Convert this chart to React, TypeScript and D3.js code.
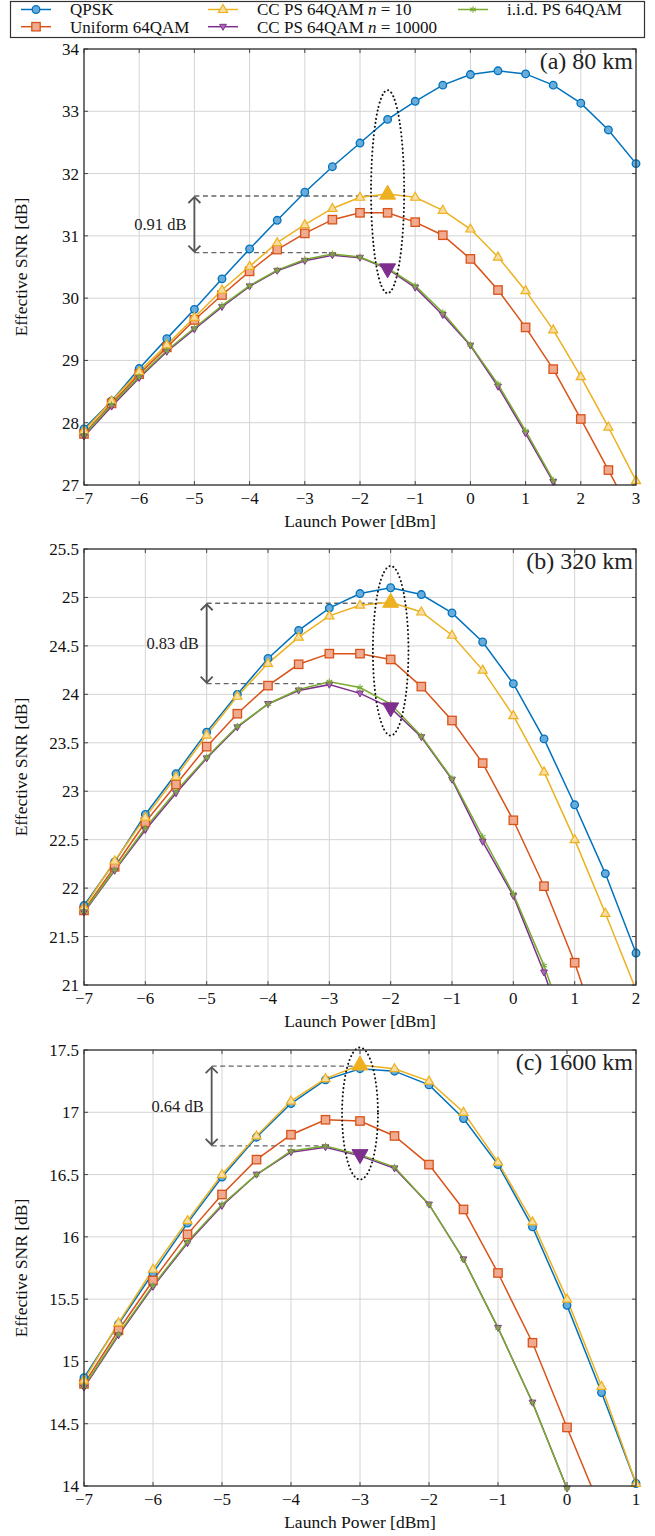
import React from 'react';
import * as d3 from 'd3';

// ---- data -------------------------------------------------------------
const powerA = [-7, -6.5, -6, -5.5, -5, -4.5, -4, -3.5, -3, -2.5, -2, -1.5, -1, -0.5, 0, 0.5, 1, 1.5, 2, 2.5, 3];
const qpskA = [27.9, 28.35, 28.87, 29.35, 29.82, 30.31, 30.79, 31.25, 31.7, 32.11, 32.49, 32.87, 33.16, 33.42, 33.59, 33.65, 33.6, 33.42, 33.13, 32.7, 32.16];
const uniformA = [27.82, 28.31, 28.78, 29.21, 29.65, 30.05, 30.43, 30.78, 31.04, 31.26, 31.37, 31.37, 31.22, 31.01, 30.63, 30.13, 29.53, 28.86, 28.06, 27.24, 26.4];
const cc10A = [27.87, 28.35, 28.82, 29.25, 29.69, 30.13, 30.51, 30.89, 31.18, 31.44, 31.62, 31.67, 31.62, 31.41, 31.11, 30.66, 30.12, 29.49, 28.74, 27.93, 27.07];
const cc10kA = [27.78, 28.26, 28.72, 29.14, 29.5, 29.86, 30.19, 30.44, 30.6, 30.69, 30.65, 30.47, 30.17, 29.73, 29.24, 28.58, 27.83, 27.05, 26.2, 25.2, 24.2];
const iidA = [27.8, 28.29, 28.74, 29.16, 29.52, 29.88, 30.2, 30.45, 30.62, 30.71, 30.66, 30.48, 30.2, 29.77, 29.25, 28.62, 27.87, 27.08, 26.2, 25.2, 24.2];

const powerB = [-7, -6.5, -6, -5.5, -5, -4.5, -4, -3.5, -3, -2.5, -2, -1.5, -1, -0.5, 0, 0.5, 1, 1.5, 2];
const qpskB = [21.82, 22.27, 22.76, 23.18, 23.61, 24.0, 24.37, 24.66, 24.89, 25.04, 25.1, 25.03, 24.84, 24.54, 24.11, 23.54, 22.86, 22.15, 21.33];
const uniformB = [21.77, 22.22, 22.68, 23.07, 23.46, 23.8, 24.09, 24.31, 24.42, 24.42, 24.36, 24.08, 23.73, 23.29, 22.7, 22.02, 21.23, 20.3, 19.3];
const cc10B = [21.8, 22.28, 22.73, 23.15, 23.58, 23.98, 24.32, 24.59, 24.81, 24.92, 24.95, 24.85, 24.61, 24.25, 23.78, 23.2, 22.5, 21.74, 20.95];
const cc10kB = [21.75, 22.18, 22.6, 22.98, 23.34, 23.66, 23.9, 24.04, 24.1, 24.01, 23.86, 23.56, 23.12, 22.48, 21.92, 21.13, 20.2, 19.2, 18.1];
const iidB = [21.76, 22.19, 22.62, 23.0, 23.35, 23.67, 23.9, 24.05, 24.13, 24.07, 23.9, 23.57, 23.13, 22.53, 21.94, 21.2, 20.3, 19.3, 18.2];

const powerC = [-7, -6.5, -6, -5.5, -5, -4.5, -4, -3.5, -3, -2.5, -2, -1.5, -1, -0.5, 0, 0.5, 1];
const qpskC = [14.87, 15.3, 15.71, 16.11, 16.48, 16.8, 17.07, 17.26, 17.35, 17.33, 17.22, 16.95, 16.58, 16.08, 15.45, 14.75, 14.02];
const uniformC = [14.82, 15.25, 15.65, 16.02, 16.34, 16.62, 16.82, 16.94, 16.93, 16.81, 16.58, 16.22, 15.71, 15.15, 14.47, 13.8, 13.0];
const cc10C = [14.85, 15.31, 15.74, 16.13, 16.5, 16.81, 17.09, 17.27, 17.38, 17.35, 17.25, 17.0, 16.6, 16.12, 15.5, 14.8, 14.02];
const cc10kC = [14.79, 15.21, 15.6, 15.95, 16.25, 16.5, 16.68, 16.72, 16.65, 16.55, 16.26, 15.82, 15.27, 14.67, 13.98, 13.2, 12.3];
const iidC = [14.8, 15.22, 15.61, 15.96, 16.26, 16.5, 16.69, 16.73, 16.66, 16.56, 16.26, 15.82, 15.27, 14.67, 13.98, 13.2, 12.3];

const xTicksA = [-7, -6, -5, -4, -3, -2, -1, 0, 1, 2, 3];
const yTicksA = [27, 28, 29, 30, 31, 32, 33, 34];
const xTicksB = [-7, -6, -5, -4, -3, -2, -1, 0, 1, 2];
const yTicksB = [21, 21.5, 22, 22.5, 23, 23.5, 24, 24.5, 25, 25.5];
const xTicksC = [-7, -6, -5, -4, -3, -2, -1, 0, 1];
const yTicksC = [14, 14.5, 15, 15.5, 16, 16.5, 17, 17.5];

const panelTitles = ['(a) 80 km', '(b) 320 km', '(c) 1600 km'];
// annotation: gap between best CC PS n=10 and n=10000 points
const gapLabels = ['0.91 dB', '0.83 dB', '0.64 dB'];
const gapTop = [31.64, 24.94, 17.37];
const gapBottom = [30.73, 24.11, 16.73];
const gapArrowX = [-5, -5, -5.15];
const gapTopEnd = [-1.5, -2, -3];
const gapBottomEnd = [-2.5, -3, -3.5];
const peakX = [-1.5, -2, -3];
const peakCC10 = [31.67, 24.95, 17.38];
const peakCC10k = [30.47, 23.86, 16.66];
const ellipseCY = [31.71, 24.45, 16.99];
const ellipseRY = [1.63, 0.875, 0.53];
const ellipseRX = [0.3, 0.29, 0.26];

// ---- style ------------------------------------------------------------
const FONT = '"Liberation Serif", "Times New Roman", serif';
const BLUE = '#0072BD';
const ORANGE = '#D95319';
const YELLOW = '#EDB120';
const PURPLE = '#7E2F8E';
const GREEN = '#77AC30';

const LEFT = 84;
const RIGHT = 636;
const PANEL_H = 436;

type Kind = 'circle' | 'square' | 'up' | 'down' | 'star';

const Marker = ({ kind, x, y, color }: { kind: Kind; x: number; y: number; color: string }) => {
  const t = `translate(${x},${y})`;
  if (kind === 'circle')
    return <circle cx={x} cy={y} r={3.8} fill="#67acdb" stroke={color} strokeWidth={1.3} />;
  if (kind === 'square')
    return <rect x={x - 4.2} y={y - 4.2} width={8.4} height={8.4} fill="#efaa90" stroke={color} strokeWidth={1.3} />;
  if (kind === 'up')
    return <path transform={t} d="M0,-5 L4.6,3 L-4.6,3Z" fill="#f7dea0" stroke={color} strokeWidth={1.2} />;
  if (kind === 'down')
    return <path transform={t} d="M0,3.6 L-3.4,-2.4 L3.4,-2.4Z" fill="#a86bb3" stroke={color} strokeWidth={1} />;
  return (
    <g transform={t} stroke={color} strokeWidth={1.1}>
      <line x1={0} y1={-3.3} x2={0} y2={3.3} />
      <line x1={-2.9} y1={-1.65} x2={2.9} y2={1.65} />
      <line x1={-2.9} y1={1.65} x2={2.9} y2={-1.65} />
    </g>
  );
};

type Series = { values: number[]; color: string; kind: Kind };

const Panel = ({ idx, top, xs, series, xDomain, yDomain, xTicks, yTicks }: {
  idx: number; top: number; xs: number[]; series: Series[];
  xDomain: [number, number]; yDomain: [number, number]; xTicks: number[]; yTicks: number[];
}) => {
  const bottom = top + PANEL_H;
  const x = d3.scaleLinear().domain(xDomain).range([LEFT, RIGHT]);
  const y = d3.scaleLinear().domain(yDomain).range([bottom, top]);
  const line = d3.line<number>().x((_, i) => x(xs[i])).y((d) => y(d));
  const clipId = `clip${idx}`;
  const fmt = (v: number) => String(v).replace('-', '\u2212');
  const ax = x(gapArrowX[idx]);
  const yT = y(gapTop[idx]);
  const yB = y(gapBottom[idx]);
  const ell = {
    cx: x(peakX[idx]),
    cy: y(ellipseCY[idx]),
    rx: x(peakX[idx] + ellipseRX[idx]) - x(peakX[idx]),
    ry: y(ellipseCY[idx] - ellipseRY[idx]) - y(ellipseCY[idx]),
  };
  const px = x(peakX[idx]);
  return (
    <g fontFamily={FONT}>
      <defs>
        <clipPath id={clipId}>
          <rect x={LEFT} y={top} width={RIGHT - LEFT} height={PANEL_H} />
        </clipPath>
      </defs>
      {/* grid */}
      <g stroke="#d4d4d4" strokeWidth={1}>
        {xTicks.map((t) => <line key={`gx${t}`} x1={x(t)} x2={x(t)} y1={top} y2={bottom} />)}
        {yTicks.map((t) => <line key={`gy${t}`} x1={LEFT} x2={RIGHT} y1={y(t)} y2={y(t)} />)}
      </g>
      {/* ticks, inward on all sides */}
      <g stroke="#333" strokeWidth={0.9}>
        {xTicks.map((t) => (
          <g key={`tx${t}`}>
            <line x1={x(t)} x2={x(t)} y1={bottom} y2={bottom - 4} />
            <line x1={x(t)} x2={x(t)} y1={top} y2={top + 4} />
          </g>
        ))}
        {yTicks.map((t) => (
          <g key={`ty${t}`}>
            <line x1={LEFT} x2={LEFT + 4} y1={y(t)} y2={y(t)} />
            <line x1={RIGHT} x2={RIGHT - 4} y1={y(t)} y2={y(t)} />
          </g>
        ))}
      </g>
      {/* annotation: dashed guides */}
      <g stroke="#666" strokeWidth={1.3} strokeDasharray="5,3.5" fill="none">
        <line x1={ax} x2={x(gapTopEnd[idx])} y1={yT} y2={yT} />
        <line x1={ax} x2={x(gapBottomEnd[idx])} y1={yB} y2={yB} />
      </g>
      {/* series */}
      <g clipPath={`url(#${clipId})`} fill="none" strokeWidth={1.5}>
        {series.map((s, i) => <path key={`l${i}`} d={line(s.values) || ''} stroke={s.color} />)}
      </g>
      {series.map((s, i) => (
        <g key={`m${i}`}>
          {s.values.map((v, j) =>
            v >= yDomain[0] - 0.03 && v <= yDomain[1] + 0.03
              ? <Marker key={j} kind={s.kind} x={x(xs[j])} y={y(v)} color={s.color} />
              : null)}
        </g>
      ))}
      {/* highlighted optimum points */}
      <path transform={`translate(${px},${y(peakCC10[idx])})`} d="M0,-9 L8,5 L-8,5Z" fill={YELLOW} stroke={YELLOW} strokeWidth={1} />
      <path transform={`translate(${px},${y(peakCC10k[idx])})`} d="M0,9 L-8,-5 L8,-5Z" fill={PURPLE} stroke={PURPLE} strokeWidth={1} />
      {/* arrow */}
      <g stroke="#555" strokeWidth={1.8} fill="none">
        <line x1={ax} x2={ax} y1={yT + 1} y2={yB - 1} />
        <path d={`M${ax - 6},${yT + 7} L${ax},${yT + 1} L${ax + 6},${yT + 7}`} />
        <path d={`M${ax - 6},${yB - 7} L${ax},${yB - 1} L${ax + 6},${yB - 7}`} />
      </g>
      <text x={ax - 8} y={(yT + yB) / 2} dy="0.35em" textAnchor="end" fontSize={16.5} fill="#222">{gapLabels[idx]}</text>
      {/* dotted ellipse */}
      <ellipse cx={ell.cx} cy={ell.cy} rx={ell.rx} ry={ell.ry} fill="none" stroke="#111" strokeWidth={2}
        strokeDasharray="0.1,4" strokeLinecap="round" />
      {/* frame */}
      <rect x={LEFT} y={top} width={RIGHT - LEFT} height={PANEL_H} fill="none" stroke="#333" strokeWidth={1.3} />
      <text x={RIGHT - 3} y={top + 20} textAnchor="end" fontSize={24} fill="#222">{panelTitles[idx]}</text>
      {/* tick labels */}
      {xTicks.map((t) => (
        <text key={`lx${t}`} x={x(t)} y={bottom + 19} textAnchor="middle" fontSize={17} fill="#111">{fmt(t)}</text>
      ))}
      {yTicks.map((t) => (
        <text key={`ly${t}`} x={LEFT - 5} y={y(t)} dy="0.35em" textAnchor="end" fontSize={17} fill="#111">{fmt(t)}</text>
      ))}
      <text x={(LEFT + RIGHT) / 2} y={bottom + 42} textAnchor="middle" fontSize={17.5} fill="#111">Launch Power [dBm]</text>
      <text transform={`translate(27,${(top + bottom) / 2}) rotate(-90)`} textAnchor="middle" fontSize={17.5} fill="#111">Effective SNR [dB]</text>
    </g>
  );
};

const legendItems: { label: React.ReactNode; color: string; kind: Kind; col: number; row: number }[] = [
  { label: 'QPSK', color: BLUE, kind: 'circle', col: 0, row: 0 },
  { label: 'Uniform 64QAM', color: ORANGE, kind: 'square', col: 0, row: 1 },
  { label: <>CC PS 64QAM <tspan fontStyle="italic">n</tspan> = 10</>, color: YELLOW, kind: 'up', col: 1, row: 0 },
  { label: <>CC PS 64QAM <tspan fontStyle="italic">n</tspan> = 10000</>, color: PURPLE, kind: 'down', col: 1, row: 1 },
  { label: 'i.i.d. PS 64QAM', color: GREEN, kind: 'star', col: 2, row: 0 },
];
const legendColX = [36, 223, 473];

const Legend = () => (
  <g fontFamily={FONT}>
    <rect x={10.5} y={1.5} width={634} height={36} fill="#fff" stroke="#333" strokeWidth={1.2} />
    {legendItems.map((it, i) => {
      const cx = legendColX[it.col];
      const cy = 9.5 + it.row * 17.2;
      return (
        <g key={i}>
          <line x1={cx - 15} x2={cx + 15} y1={cy} y2={cy} stroke={it.color} strokeWidth={1.5} />
          <Marker kind={it.kind} x={cx} y={cy} color={it.color} />
          <text x={cx + 34} y={cy} dy="0.35em" fontSize={17} fill="#111">{it.label}</text>
        </g>
      );
    })}
  </g>
);

const App = () => {
  const mk = (a: number[], b: number[], c: number[], d: number[], e: number[]): Series[] => [
    { values: a, color: BLUE, kind: 'circle' },
    { values: b, color: ORANGE, kind: 'square' },
    { values: c, color: YELLOW, kind: 'up' },
    { values: d, color: PURPLE, kind: 'down' },
    { values: e, color: GREEN, kind: 'star' },
  ];
  return (
    <svg width={655} height={1536} style={{ position: 'absolute', left: 0, top: 0, background: '#fff' }}>
      <rect width={655} height={1536} fill="#fff" />
      <Panel idx={0} top={49} xs={powerA} series={mk(qpskA, uniformA, cc10A, cc10kA, iidA)}
        xDomain={[-7, 3]} yDomain={[27, 34]} xTicks={xTicksA} yTicks={yTicksA} />
      <Panel idx={1} top={549} xs={powerB} series={mk(qpskB, uniformB, cc10B, cc10kB, iidB)}
        xDomain={[-7, 2]} yDomain={[21, 25.5]} xTicks={xTicksB} yTicks={yTicksB} />
      <Panel idx={2} top={1050} xs={powerC} series={mk(qpskC, uniformC, cc10C, cc10kC, iidC)}
        xDomain={[-7, 1]} yDomain={[14, 17.5]} xTicks={xTicksC} yTicks={yTicksC} />
      <Legend />
    </svg>
  );
};

export default App;
